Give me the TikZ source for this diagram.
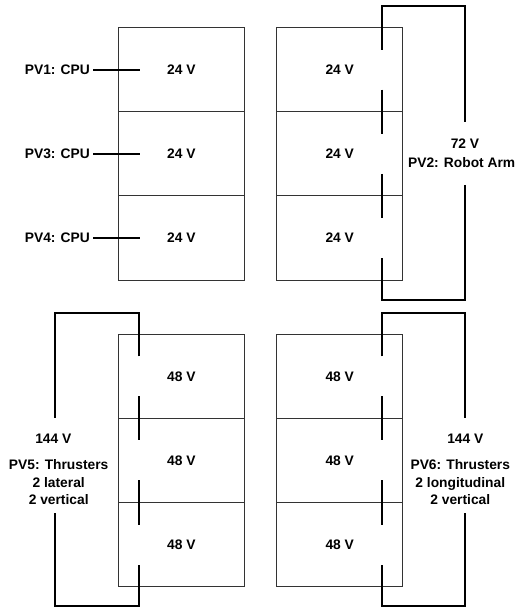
\documentclass[tikz,border=0pt]{standalone}
\usepackage{fontspec}
\setmainfont{Liberation Sans}
\begin{document}
\begin{tikzpicture}[
    x=1pt, y=-1pt,
    cell/.style={rectangle, draw=black!80, line width=0.8pt, minimum width=126pt, minimum height=84.1pt, font=\fontsize{13.8}{16}\selectfont\bfseries},
    pvtext/.style={font=\fontsize{13.8}{17.5}\selectfont\bfseries, align=center, inner sep=3pt},
    wire/.style={line width=2pt, draw=black},
]
\useasboundingbox (0,0) rectangle (517,609);
% 24 V cells, CPU supplies
\node[cell] (tl1) at (181.3,69.7) {24 V};
\node[cell] (tl2) at (181.3,153.8) {24 V};
\node[cell] (tl3) at (181.3,237.9) {24 V};
\node[pvtext, anchor=east] (pv1) at (93,69.7) {PV1: CPU};
\node[pvtext, anchor=east] (pv3) at (93,153.8) {PV3: CPU};
\node[pvtext, anchor=east] (pv4) at (93,237.9) {PV4: CPU};
\coordinate (c1) at (140,69.7);
\coordinate (c3) at (140,153.8);
\coordinate (c4) at (140,237.9);
\draw[wire] (pv1.east) -- (c1);
\draw[wire] (pv3.east) -- (c3);
\draw[wire] (pv4.east) -- (c4);
% 24 V cells in series, robot arm
\node[cell] (tr1) at (339.7,69.7) {24 V};
\node[cell] (tr2) at (339.7,153.8) {24 V};
\node[cell] (tr3) at (339.7,237.9) {24 V};
\coordinate (tr1a) at (381.7,49.7);
\coordinate (tr1b) at (381.7,89.7);
\coordinate (tr2a) at (381.7,133.8);
\coordinate (tr2b) at (381.7,173.8);
\coordinate (tr3a) at (381.7,217.9);
\coordinate (tr3b) at (381.7,257.9);
\coordinate (trT) at (465,6);
\coordinate (trG1) at (465,121.7);
\coordinate (trG2) at (465,185);
\coordinate (trB) at (465,300);
\node[pvtext] (v2) at (465,144) {72 V};
\node[pvtext] (pv2) at (461.7,162.7) {PV2: Robot Arm};
\draw[wire] (tr1a) |- (trT) -- (trG1);
\draw[wire] (trG2) -- (trB) -| (tr3b);
\draw[wire] (tr1b) -- (tr2a);
\draw[wire] (tr2b) -- (tr3a);
% 48 V cells in series, thrusters PV5
\node[cell] (bl1) at (181.3,376.3) {48 V};
\node[cell] (bl2) at (181.3,460.4) {48 V};
\node[cell] (bl3) at (181.3,544.5) {48 V};
\coordinate (bl1a) at (139.3,356.3);
\coordinate (bl1b) at (139.3,396.3);
\coordinate (bl2a) at (139.3,440.4);
\coordinate (bl2b) at (139.3,480.4);
\coordinate (bl3a) at (139.3,524.5);
\coordinate (bl3b) at (139.3,564.5);
\coordinate (blT) at (55,313);
\coordinate (blG1) at (55,418.3);
\coordinate (blG2) at (55,513.3);
\coordinate (blB) at (55,606);
\node[pvtext] (v5) at (53.3,438.3) {144 V};
\node[pvtext] (pv5) at (58.7,482.3) {PV5: Thrusters\\2 lateral\\2 vertical};
\draw[wire] (bl1a) |- (blT) -- (blG1);
\draw[wire] (blG2) -- (blB) -| (bl3b);
\draw[wire] (bl1b) -- (bl2a);
\draw[wire] (bl2b) -- (bl3a);
% 48 V cells in series, thrusters PV6
\node[cell] (br1) at (339.7,376.3) {48 V};
\node[cell] (br2) at (339.7,460.4) {48 V};
\node[cell] (br3) at (339.7,544.5) {48 V};
\coordinate (br1a) at (381.7,356.3);
\coordinate (br1b) at (381.7,396.3);
\coordinate (br2a) at (381.7,440.4);
\coordinate (br2b) at (381.7,480.4);
\coordinate (br3a) at (381.7,524.5);
\coordinate (br3b) at (381.7,564.5);
\coordinate (brT) at (465,313);
\coordinate (brG1) at (465,418.3);
\coordinate (brG2) at (465,513.3);
\coordinate (brB) at (465,606);
\node[pvtext] (v6) at (465.3,438.3) {144 V};
\node[pvtext] (pv6) at (460.3,482.3) {PV6: Thrusters\\2 longitudinal\\2 vertical};
\draw[wire] (br1a) |- (brT) -- (brG1);
\draw[wire] (brG2) -- (brB) -| (br3b);
\draw[wire] (br1b) -- (br2a);
\draw[wire] (br2b) -- (br3a);
\end{tikzpicture}
\end{document}
